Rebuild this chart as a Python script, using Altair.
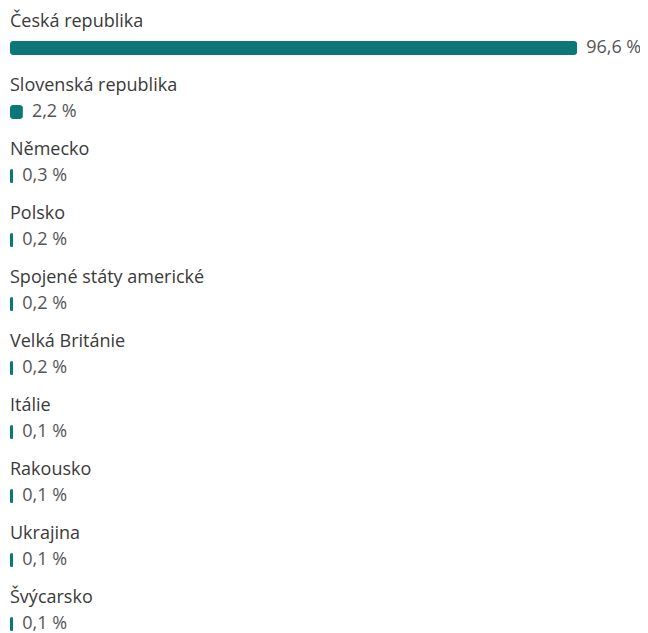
import altair as alt
import pandas as pd

countries = ["Česká republika", "Slovenská republika", "Německo", "Polsko",
             "Spojené státy americké", "Velká Británie", "Itálie", "Rakousko",
             "Ukrajina", "Švýcarsko"]
values = [96.6, 2.2, 0.3, 0.2, 0.2, 0.2, 0.1, 0.1, 0.1, 0.1]
labels = ["96,6 %", "2,2 %", "0,3 %", "0,2 %", "0,2 %", "0,2 %", "0,1 %", "0,1 %", "0,1 %", "0,1 %"]

df = pd.DataFrame({"country": countries, "value": values, "label": labels})

FONT = "Open Sans"
TEAL = "#0c7776"

base = alt.Chart(df).transform_calculate(
    shown="max(datum.value, 0.55)"
)

y_enc = alt.Y("country:N", sort=countries, axis=None,
              scale=alt.Scale(range=[0, 640], paddingInner=0, paddingOuter=0))
x_scale = alt.Scale(domain=[0, 105.6], nice=False, zero=True)

bars = base.mark_bar(size=14, yOffset=8, cornerRadius=3, color=TEAL).encode(
    x=alt.X("shown:Q", scale=x_scale, axis=None),
    y=y_enc,
)

names = base.mark_text(align="left", baseline="middle", dy=-18, font=FONT,
                       fontSize=18, color="#3a3a3a").encode(
    x=alt.value(0),
    y=y_enc,
    text="country:N",
)

pcts = base.mark_text(align="left", baseline="middle", dy=8, dx=9, font=FONT,
                      fontSize=18, color="#555555").encode(
    x=alt.X("shown:Q", scale=x_scale, axis=None),
    y=y_enc,
    text="label:N",
)

chart = alt.layer(bars, names, pcts).properties(
    width=620, height=625,
    background="white",
    padding={"left": 2, "top": 0, "right": 10, "bottom": 0},
    autosize=alt.AutoSizeParams(type="none"),
).configure_view(strokeOpacity=0, strokeWidth=0)

chart.save("out.html", embed_options={"renderer": "svg", "actions": False})
